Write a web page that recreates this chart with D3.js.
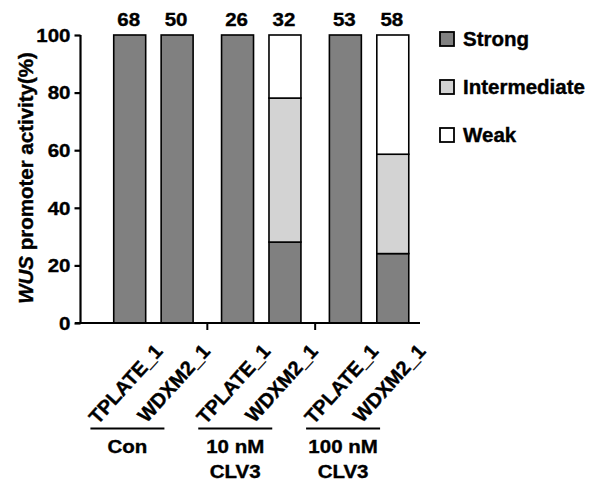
<!DOCTYPE html>
<html>
<head>
<meta charset="utf-8">
<script src="https://cdn.jsdelivr.net/npm/d3@7"></script>
<style>
  body { margin: 0; background: #fff; overflow: hidden; }
  text { font-family: "Liberation Sans", Arial, sans-serif; font-weight: bold; fill: #000; stroke: #000; stroke-width: 0.4px; }
</style>
</head>
<body>
<div id="chart"></div>
<script>
// data
const groups = ["Con", "10 nM CLV3", "100 nM CLV3"];
const groupLines = [["Con"], ["10 nM", "CLV3"], ["100 nM", "CLV3"]];
const lines = ["TPLATE_1", "WDXM2_1"];
const strong = [100, 100, 100, 28.1, 100, 24.1];
const intermediate = [0, 0, 0, 50, 0, 34.5];
const weak = [0, 0, 0, 21.9, 0, 41.4];
const counts = [68, 50, 26, 32, 53, 58];
const yTicks = [0, 20, 40, 60, 80, 100];
const classes = ["Strong", "Intermediate", "Weak"];
const colors = ["#808080", "#d3d3d3", "#ffffff"];

const width = 592, height = 482;
const svg = d3.select("#chart").append("svg")
  .attr("width", width).attr("height", height)
  .style("display", "block");

const rows = [];
groups.forEach((g, gi) => {
  lines.forEach((l, li) => {
    const i = gi * lines.length + li;
    rows.push({ group: g, line: l, Strong: strong[i], Intermediate: intermediate[i], Weak: weak[i], n: counts[i] });
  });
});

const x0 = d3.scaleBand().domain(groups).range([99.5, 423]).paddingInner(0).paddingOuter(0);
const x1 = d3.scaleBand().domain(lines).range([0, x0.bandwidth()]).paddingInner(0.326).paddingOuter(0.3);
const y = d3.scaleLinear().domain([0, 100]).range([323, 35]);

const cx = d => x0(d.group) + x1(d.line) + x1.bandwidth() / 2;

// stacked bars
const stack = d3.stack().keys(classes)(rows);
svg.append("g").selectAll("g")
  .data(stack)
  .join("g")
  .attr("fill", (s, i) => colors[i])
  .selectAll("rect")
  .data(s => s)
  .join("rect")
  .attr("x", d => x0(d.data.group) + x1(d.data.line))
  .attr("y", d => y(d[1]))
  .attr("width", x1.bandwidth())
  .attr("height", d => y(d[0]) - y(d[1]))
  .attr("stroke", "#000")
  .attr("stroke-width", 1.6);

// counts above bars
svg.append("g").selectAll("text")
  .data(rows)
  .join("text")
  .attr("transform", d => `translate(${cx(d) - 1},26) scale(1,0.85)`)
  .attr("text-anchor", "middle")
  .attr("font-size", 20.5)
  .text(d => d.n);

// y axis
const yAxis = svg.append("g")
  .attr("transform", "translate(80.5,0)")
  .call(d3.axisLeft(y).tickValues(yTicks).tickSize(6).tickPadding(4));
yAxis.select(".domain").attr("stroke-width", 2.2).attr("d", `M0,${y(0) + 1}V${y(100)}`);
yAxis.selectAll(".tick line").attr("stroke-width", 2.2);
yAxis.selectAll(".tick text")
  .attr("font-size", 20.5)
  .attr("font-family", null)
  .attr("transform", "scale(1,0.85)")
  .attr("dy", "0.36em");

// x axis line and group separators
svg.append("line")
  .attr("x1", 75).attr("x2", 420)
  .attr("y1", y(0)).attr("y2", y(0))
  .attr("stroke", "#000").attr("stroke-width", 2.2);
svg.append("g").selectAll("line")
  .data(groups.slice(1))
  .join("line")
  .attr("x1", g => x0(g)).attr("x2", g => x0(g))
  .attr("y1", y(0)).attr("y2", y(0) + 7)
  .attr("stroke", "#000").attr("stroke-width", 2);

// rotated line labels
svg.append("g").selectAll("text")
  .data(rows)
  .join("text")
  .attr("transform", d => `translate(${cx(d) + 34},352) rotate(-48)`)
  .attr("text-anchor", "end")
  .attr("font-size", 20)
  .text(d => d.line);

// group underline and names
const gl = svg.append("g").selectAll("g")
  .data(groups)
  .join("g")
  .attr("transform", g => `translate(${x0(g) + x0.bandwidth() / 2 - 26},0)`);
gl.append("line")
  .attr("x1", -37).attr("x2", 37)
  .attr("y1", 428.5).attr("y2", 428.5)
  .attr("stroke", "#000").attr("stroke-width", 2.2);
gl.each(function (g, gi) {
  d3.select(this).selectAll("text")
    .data(groupLines[gi])
    .join("text")
    .attr("transform", (t, k) => `translate(0,${453 + k * 25}) scale(1,0.9)`)
    .attr("text-anchor", "middle")
    .attr("font-size", 20.5)
    .text(t => t);
});

// y axis title
svg.append("text")
  .attr("transform", `translate(33,${(51 + 305) / 2}) rotate(-90)`)
  .attr("text-anchor", "middle")
  .attr("font-size", 20.5)
  .call(t => {
    t.append("tspan").attr("font-style", "italic").text("WUS");
    t.append("tspan").text(" promoter activity(%)");
  });

// legend
const lg = svg.append("g").selectAll("g")
  .data(classes)
  .join("g")
  .attr("transform", (c, i) => `translate(440,${32 + i * 48})`);
lg.append("rect")
  .attr("width", 14).attr("height", 14)
  .attr("fill", (c, i) => colors[i])
  .attr("stroke", "#000").attr("stroke-width", 1.8);
lg.append("text")
  .attr("x", 23).attr("y", 14)
  .attr("font-size", 20.5)
  .text(c => c);
</script>
</body>
</html>
